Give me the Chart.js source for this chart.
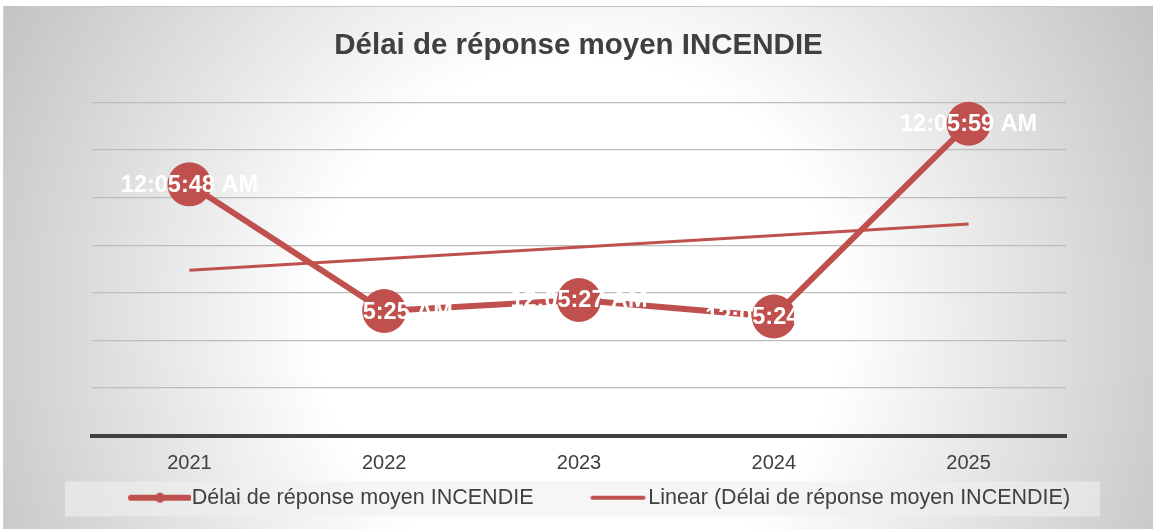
<!DOCTYPE html>
<html>
<head>
<meta charset="utf-8">
<script src="https://cdn.jsdelivr.net/npm/chart.js@4.4.0/dist/chart.umd.min.js"></script>
<style>
  html, body { margin: 0; padding: 0; background: #fff; }
  #wrap {
    position: absolute; left: 3px; top: 6px; width: 1149px; height: 522px;
    border-top: 1px solid #c6c6c6; border-left: 1px solid #d0d0d0;
    background: radial-gradient(circle at 50% 60%, #ffffff 0px, #ffffff 260px, #c2c2c2 660px);
  }
  canvas { display: block; }
</style>
</head>
<body>
<div id="wrap"><canvas id="c" width="1149" height="522"></canvas></div>
<script>
// durations stored as seconds (00:05:48 -> 348)
const years = ['2021', '2022', '2023', '2024', '2025'];
const delaiSec = [348, 325, 327, 324, 359];
// excel linear trendline, read at first and last year
const trendYears = ['2021', '2025'];
const trendSec = [332.4, 340.8];
// gridlines every 0.0001 day
const gridSec = [302.4, 311.04, 319.68, 328.32, 336.96, 345.6, 354.24, 362.88];

const RED = '#C0504D';
const TXT = '#404040';
const FONT = '"Liberation Sans", Arial, sans-serif';

function fmtTime(s) {
  const h = Math.floor(s / 3600);
  const m = Math.floor((s % 3600) / 60);
  const sec = Math.round(s % 60);
  const hh = h % 12 === 0 ? 12 : h % 12;
  return hh + ':' + String(m).padStart(2, '0') + ':' + String(sec).padStart(2, '0') + (h < 12 ? ' AM' : ' PM');
}

// legend markers (right part of the image holds the line)
function legendMarker(len, lw, dot) {
  const c = document.createElement('canvas');
  c.width = 114; c.height = 16;
  const g = c.getContext('2d');
  const end = dot ? 112 : 110;
  g.strokeStyle = RED;
  g.lineWidth = lw;
  g.lineCap = 'round';
  g.beginPath();
  g.moveTo(end - len, 8);
  g.lineTo(end, 8);
  g.stroke();
  if (dot) {
    g.fillStyle = RED;
    g.beginPath();
    g.arc(end - len / 2, 8, 5, 0, Math.PI * 2);
    g.fill();
  }
  return c;
}
const markers = [legendMarker(58, 6, true), legendMarker(51, 4, false)];

const legendBg = {
  id: 'legendBg',
  beforeDraw(chart) {
    const lg = chart.legend;
    if (!lg || !lg.legendHitBoxes.length) return;
    const hb = lg.legendHitBoxes;
    const l = Math.min(...hb.map(b => b.left)) - 22;
    const r = Math.max(...hb.map(b => b.left + b.width)) + 30;
    const ctx = chart.ctx;
    ctx.save();
    ctx.fillStyle = 'rgba(240,240,240,0.6)';
    ctx.fillRect(l, hb[0].top - 5.5, r - l, 35);
    ctx.restore();
  }
};

// white data labels on top of everything
const pointLabels = {
  id: 'pointLabels',
  afterDatasetsDraw(chart) {
    const meta = chart.getDatasetMeta(0);
    const ctx = chart.ctx;
    ctx.save();
    ctx.font = 'bold 23.5px ' + FONT;
    ctx.fillStyle = '#ffffff';
    ctx.textAlign = 'center';
    ctx.textBaseline = 'middle';
    meta.data.forEach((pt, i) => {
      ctx.fillText(fmtTime(delaiSec[i]), pt.x, pt.y + 1);
    });
    ctx.restore();
  }
};

new Chart(document.getElementById('c'), {
  type: 'line',
  data: {
    labels: years,
    datasets: [
      {
        label: 'Délai de réponse moyen INCENDIE',
        data: delaiSec,
        borderColor: RED,
        backgroundColor: RED,
        borderWidth: 6,
        pointRadius: 22,
        pointHoverRadius: 22,
        pointBackgroundColor: RED,
        pointBorderWidth: 0,
        tension: 0,
        clip: false,
        order: 2
      },
      {
        label: 'Linear (Délai de réponse moyen INCENDIE)',
        data: trendYears.map((y, i) => ({ x: y, y: trendSec[i] })),
        borderColor: RED,
        backgroundColor: RED,
        borderWidth: 3,
        pointRadius: 0,
        tension: 0,
        clip: false,
        order: 1
      }
    ]
  },
  options: {
    responsive: false,
    animation: false,
    devicePixelRatio: 1,
    layout: { padding: { top: 0, bottom: 10.5, left: 0, right: 0 } },
    plugins: {
      title: {
        display: true,
        text: 'Délai de réponse moyen INCENDIE',
        color: TXT,
        font: { family: FONT, size: 29.5, weight: 'bold' },
        padding: { top: 21, bottom: 39 }
      },
      legend: {
        position: 'bottom',
        labels: {
          color: TXT,
          font: { family: FONT, size: 21.5 },
          usePointStyle: true,
          pointStyleWidth: 94,
          padding: 10,
          sort: (a, b) => a.datasetIndex - b.datasetIndex,
          generateLabels(chart) {
            const items = Chart.defaults.plugins.legend.labels.generateLabels(chart);
            items.forEach(it => { it.pointStyle = markers[it.datasetIndex]; });
            return items;
          }
        }
      },
      tooltip: { enabled: false }
    },
    scales: {
      x: {
        type: 'category',
        offset: true,
        afterFit: s => { s.height = 41.5; },
        grid: { display: false, drawTicks: false },
        border: { display: true, color: TXT, width: 4 },
        ticks: { color: TXT, font: { family: FONT, size: 20 }, padding: 16 }
      },
      y: {
        type: 'linear',
        position: 'left',
        min: 302.4,
        max: 362.88,
        afterBuildTicks: s => { s.ticks = gridSec.map(v => ({ value: v })); },
        afterFit: s => { s.width = 88; },
        ticks: { display: false },
        grid: { color: '#bdbdbd', lineWidth: 1.3, drawTicks: false },
        border: { display: false }
      },
      y2: {
        type: 'linear',
        position: 'right',
        afterFit: s => { s.width = 87; },
        ticks: { display: false },
        grid: { display: false, drawTicks: false },
        border: { display: false }
      }
    }
  },
  plugins: [legendBg, pointLabels]
});
</script>
</body>
</html>
